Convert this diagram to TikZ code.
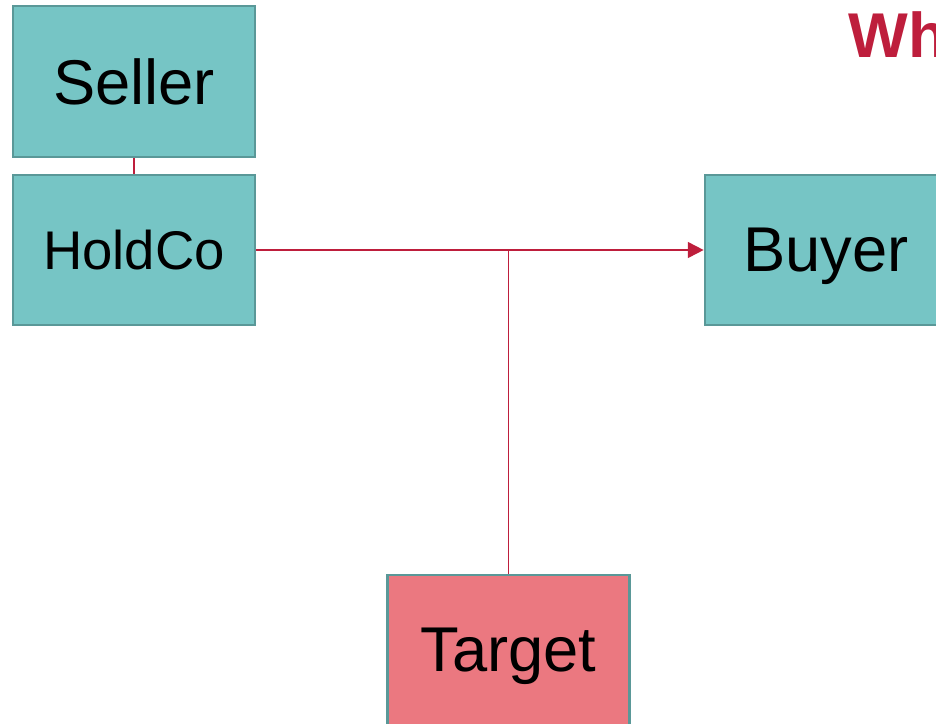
\documentclass[tikz,border=0pt]{standalone}
\usepackage{fontspec}
\setmainfont{Liberation Sans}
\usetikzlibrary{arrows.meta}

\definecolor{boxteal}{HTML}{76C5C5}
\definecolor{boxedge}{HTML}{5A9898}
\definecolor{boxrose}{HTML}{EB7880}
\definecolor{linkred}{HTML}{BE1E3C}

\begin{document}
\begin{tikzpicture}
[
    % one unit = 50px of the slide
    line join=miter
]

%=================================== Start ===================================
\tikzstyle{entity} = [draw=boxedge, line width=1.5pt, fill=boxteal, shape=rectangle,
                      minimum width=4.84cm, minimum height=3.0cm, inner sep=0pt,
                      text depth=0pt, font=\fontsize{36}{40}\selectfont]
\tikzstyle{link}   = [draw=linkred, line width=1pt]

\useasboundingbox (0,0) rectangle (18.72,-14.48);

% Draw the parties
\node[entity, minimum height=3.02cm] (seller) at (2.68,-1.63) {Seller};
\node[entity, font=\fontsize{31}{36}\selectfont] (holdco) at (2.68,-5.0) {HoldCo};
\node[entity] (buyer)  at (16.52,-5.0) {Buyer};
\node[entity, fill=boxrose] (target) at (10.17,-13.0) {Target};

% Heading (runs off the slide)
\node[anchor=base west, text=linkred, font=\bfseries\fontsize{36}{40}\selectfont,
      inner sep=0pt] (title) at (16.96,-1.14) {Wh};

% Connections
\coordinate (join) at (target.north |- holdco.east);
\path[link] (seller.south) edge (holdco.north);
\draw[link, -{Triangle[length=9pt, width=9pt]}] (holdco.east) -- (buyer.west);
\draw[link] (target.north) -- (join);
%==================================== END ====================================

\end{tikzpicture}
\end{document}
